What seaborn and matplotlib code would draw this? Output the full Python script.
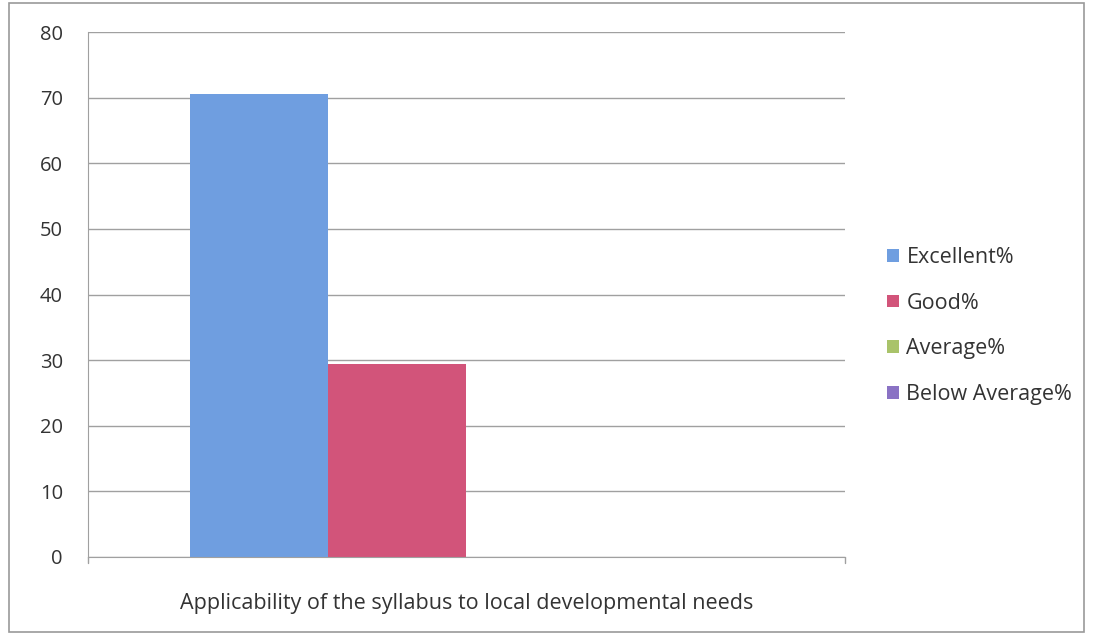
import pandas as pd
import matplotlib.pyplot as plt
import seaborn as sns

# values
category = ['Applicability of the syllabus to local developmental needs']
ratings = ['Excellent%', 'Good%', 'Average%', 'Below Average%']
percent = [70.6, 29.4, 0.0, 0.0]
colors = ['#6f9ee0', '#d2547a', '#a9c36a', '#8a72c4']

df = pd.DataFrame({
    'Question': category * len(ratings),
    'Rating': ratings,
    'Percent': percent,
})

sns.set_style('white')
plt.rcParams['font.family'] = ['Open Sans', 'DejaVu Sans']

fig = plt.figure(figsize=(10.93, 6.38), dpi=100)
ax = fig.add_axes([88 / 1093, 1 - 557 / 638, (845 - 88) / 1093, (557 - 32) / 638])

sns.barplot(data=df, x='Question', y='Percent', hue='Rating',
            palette=colors, width=0.73, saturation=1, linewidth=0, ax=ax)

ax.set_ylim(0, 80)
ax.set_xlim(-0.5, 0.5)
ax.set_yticks(range(0, 81, 10))
ax.yaxis.grid(True, color='#a0a0a0', linewidth=1)
ax.set_axisbelow(True)
ax.set_xlabel('')
ax.set_ylabel('')
ax.tick_params(axis='y', labelsize=14.5, colors='#333333', length=5, color='#a0a0a0', pad=13)
ax.tick_params(axis='x', labelsize=15.5, colors='#333333', length=0, pad=26)

for side in ['top', 'right']:
    ax.spines[side].set_visible(False)
ax.spines['left'].set_color('#a0a0a0')
ax.spines['bottom'].set_color('#a0a0a0')

# small end ticks on the category axis
for xe in [-0.5, 0.5]:
    ax.plot([xe, xe], [0, -0.012], transform=ax.get_xaxis_transform(),
            color='#a0a0a0', linewidth=1, clip_on=False)

leg = ax.legend(loc='center left', bbox_to_anchor=(1.03, 0.44), frameon=False,
                fontsize=15.5, handlelength=0.55, handleheight=0.55,
                handletextpad=0.35, labelspacing=1.15)
for t in leg.get_texts():
    t.set_color('#333333')

# outer frame of the picture
fig.patches.append(plt.Rectangle((0.008, 0.01), 0.984, 0.985, transform=fig.transFigure,
                                 fill=False, edgecolor='#9a9a9a', linewidth=1.2))

fig.savefig('out.png', dpi=100)
